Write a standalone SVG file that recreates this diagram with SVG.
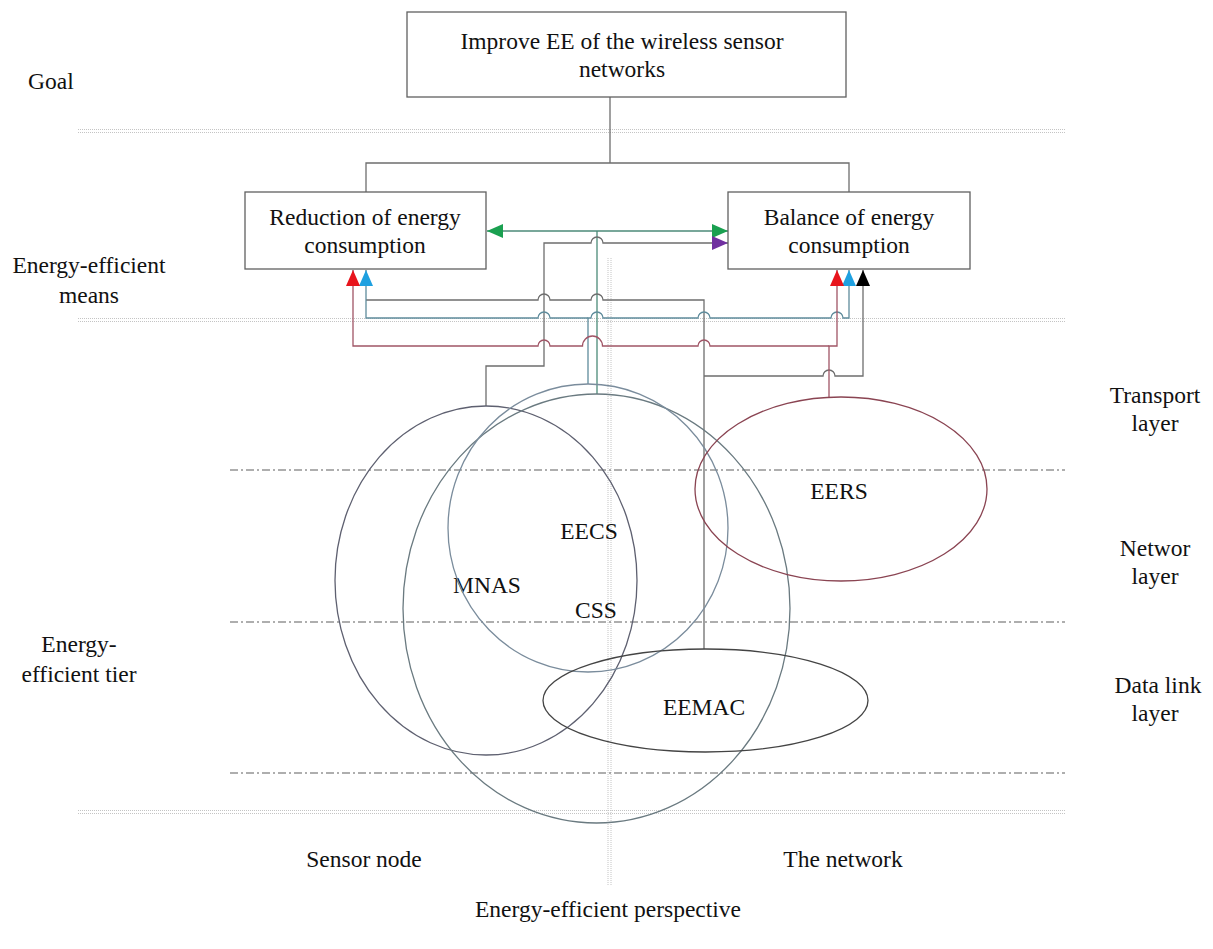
<svg xmlns="http://www.w3.org/2000/svg" width="1213" height="949" viewBox="0 0 1213 949">
<style>
text{font-family:"Liberation Serif","Times New Roman",serif;font-size:23.5px;fill:#111}
.c{text-anchor:middle}
.box{fill:#fff;stroke:#606060;stroke-width:1.3}
.dot{stroke:#c4c4c4;stroke-width:1;stroke-dasharray:1 1;fill:none}
.dd{stroke:#5e5e5e;stroke-width:1.2;stroke-dasharray:8 3 2 3;fill:none}
.ln{fill:none;stroke:#6e6e6e;stroke-width:1.3}
.blue{fill:none;stroke:#5f8c9c;stroke-width:1.3}
.grn{fill:none;stroke:#4b8a78;stroke-width:1.3}
.red{fill:none;stroke:#a05566;stroke-width:1.3}
.ell{fill:none;stroke-width:1.3}
</style>
<defs>
<marker id="aRed" viewBox="0 0 16 14" refX="16" refY="7" markerWidth="16" markerHeight="14" markerUnits="userSpaceOnUse" orient="auto"><path d="M0 0L16 7L0 14z" fill="#e8141c"/></marker>
<marker id="aBlue" viewBox="0 0 16 14" refX="16" refY="7" markerWidth="16" markerHeight="14" markerUnits="userSpaceOnUse" orient="auto"><path d="M0 0L16 7L0 14z" fill="#1ea0e0"/></marker>
<marker id="aBlack" viewBox="0 0 16 14" refX="16" refY="7" markerWidth="16" markerHeight="14" markerUnits="userSpaceOnUse" orient="auto"><path d="M0 0L16 7L0 14z" fill="#000"/></marker>
<marker id="aGreen" viewBox="0 0 16 14" refX="16" refY="7" markerWidth="16" markerHeight="14" markerUnits="userSpaceOnUse" orient="auto-start-reverse"><path d="M0 0L16 7L0 14z" fill="#1aa050"/></marker>
<marker id="aPurple" viewBox="0 0 16 14" refX="16" refY="7" markerWidth="16" markerHeight="14" markerUnits="userSpaceOnUse" orient="auto"><path d="M0 0L16 7L0 14z" fill="#7030a0"/></marker>
</defs>

<g id="guides">
<path class="dot" d="M78 129.5H1065M78 132.5H1065M78 318.5H1065M78 321.5H1065M78 810.5H1065M78 813.5H1065M608 258V886M611 258V886"/>
<path class="dd" d="M230 470H1065M230 622H1065M230 773H1065"/>
</g>

<g id="labels">
<text x="28" y="89">Goal</text>
<text class="c" x="89" y="273">Energy-efficient</text>
<text class="c" x="89" y="303">means</text>
<text class="c" x="79" y="652">Energy-</text>
<text class="c" x="79" y="682">efficient tier</text>
<text class="c" x="1155" y="403">Transport</text>
<text class="c" x="1155" y="431">layer</text>
<text class="c" x="1155" y="556">Networ</text>
<text class="c" x="1155" y="584">layer</text>
<text class="c" x="1158" y="693">Data link</text>
<text class="c" x="1155" y="721">layer</text>
<text class="c" x="364" y="867">Sensor node</text>
<text class="c" x="843" y="867">The network</text>
<text class="c" x="608" y="917">Energy-efficient perspective</text>
</g>

<g id="connectors">
<path class="ln" d="M610 97V163M366 192V163H849V192"/>
<path class="grn" d="M487 231H728" marker-start="url(#aGreen)" marker-end="url(#aGreen)"/>
<path class="grn" d="M597 231V394"/>
<path class="ln" d="M486 406V366H544V243H591A6 6 0 0 1 603 243H728" marker-end="url(#aPurple)"/>
<path class="ln" d="M704 649V300H603A6 6 0 0 0 591 300H550A6 6 0 0 0 538 300H366"/>
<path class="ln" d="M704 376H823A6 6 0 0 1 835 376H863V270" marker-end="url(#aBlack)"/>
<path class="blue" d="M588 318H550A6 6 0 0 0 538 318H366V270" marker-end="url(#aBlue)"/>
<path class="blue" d="M588 384V318H591A6 6 0 0 1 603 318H698A6 6 0 0 1 710 318H831A6 6 0 0 1 843 318H849V270" marker-end="url(#aBlue)"/>
<path class="red" d="M829 346H710A6 6 0 0 0 698 346H602.5A10 10 0 0 0 582.5 346H550A6 6 0 0 0 538 346H353V270" marker-end="url(#aRed)"/>
<path class="red" d="M829 397V346H837V270" marker-end="url(#aRed)"/>
</g>

<g id="goal">
<rect class="box" x="407" y="12" width="439" height="85"/>
<text class="c" x="622" y="49">Improve EE of the wireless sensor</text>
<text class="c" x="622" y="77">networks</text>
</g>
<g id="reduction">
<rect class="box" x="245" y="192" width="241" height="77"/>
<text class="c" x="365" y="225">Reduction of energy</text>
<text class="c" x="365" y="253">consumption</text>
</g>
<g id="balance">
<rect class="box" x="728" y="192" width="242" height="77"/>
<text class="c" x="849" y="225">Balance of energy</text>
<text class="c" x="849" y="253">consumption</text>
</g>

<g id="mnas">
<ellipse class="ell" cx="486" cy="580.5" rx="151" ry="174.5" stroke="#5e6070"/>
<text class="c" x="487" y="593">MNAS</text>
</g>
<g id="big-circle">
<ellipse class="ell" cx="596.5" cy="608.5" rx="193.5" ry="214.5" stroke="#6a7a80"/>
</g>
<g id="eecs">
<ellipse class="ell" cx="588" cy="528" rx="140" ry="144" stroke="#7a8c9c"/>
<text class="c" x="589" y="539">EECS</text>
<text class="c" x="596" y="618">CSS</text>
</g>
<g id="eemac">
<ellipse class="ell" cx="705.5" cy="700.5" rx="162.5" ry="51.5" stroke="#444"/>
<text class="c" x="704" y="715">EEMAC</text>
</g>
<g id="eers">
<ellipse class="ell" cx="841" cy="489" rx="146" ry="92" stroke="#8a4452"/>
<text class="c" x="839" y="499">EERS</text>
</g>
</svg>
